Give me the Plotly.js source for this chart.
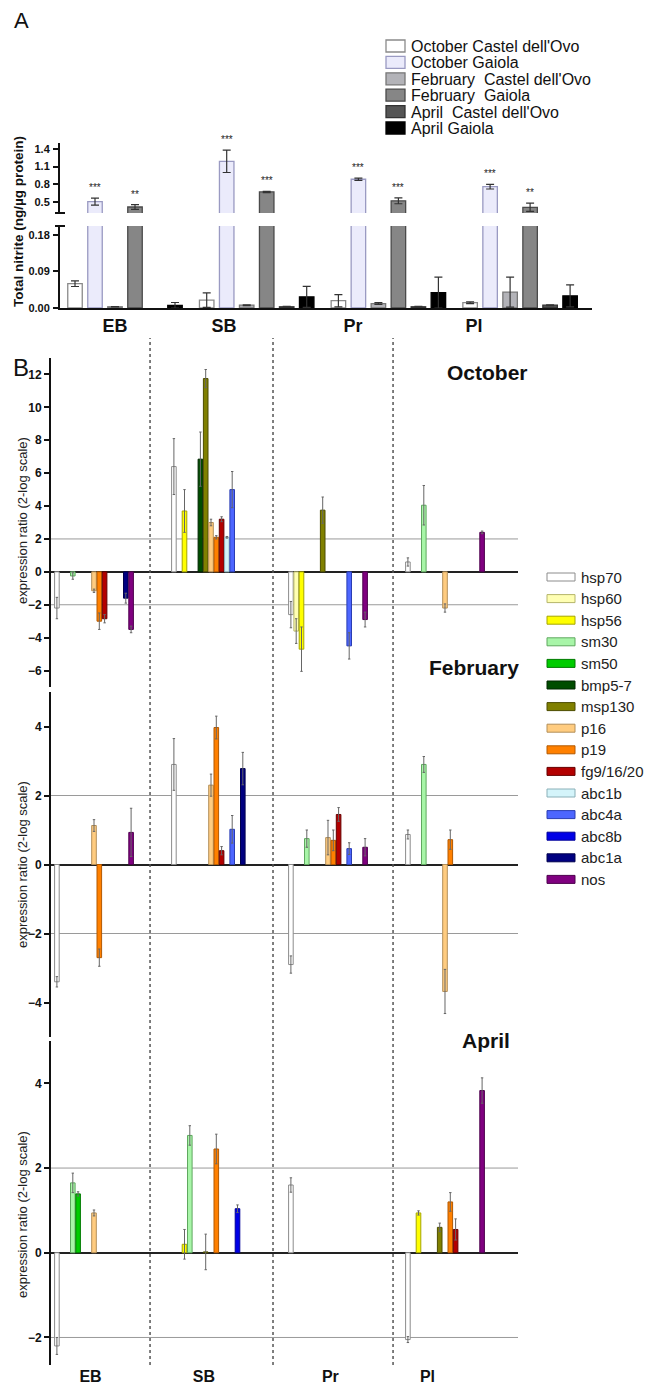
<!DOCTYPE html>
<html><head><meta charset="utf-8">
<script src="https://cdn.plot.ly/plotly-3.0.1.min.js"></script>
<style>html,body{margin:0;padding:0;background:#fff}#chart{width:646px;height:1386px}</style>
</head><body><div id="chart"></div>
<script>
const _ = null;
// ---------- Panel A data ----------
const regions = ['EB', 'SB', 'Pr', 'Pl'];
const nitriteSeries = ["October Castel dell'Ovo", "October Gaiola", "February\u00a0 Castel dell'Ovo",
  "February\u00a0 Gaiola", "April\u00a0 Castel dell'Ovo", "April Gaiola"];
const octCastel = [0.060, 0.0195, 0.018, 0.013];
const octCastelErr = [0.007, 0.018, 0.015, 0.002];
const octGaiola = [0.505, 1.19, 0.885, 0.76];
const octGaiolaErr = [0.06, 0.19, 0.02, 0.04];
const febCastel = [0.003, 0.007, 0.011, 0.039];
const febCastelErr = [0.0005, 0.001, 0.002, 0.037];
const febGaiola = [0.415, 0.67, 0.52, 0.41];
const febGaiolaErr = [0.04, 0.01, 0.05, 0.07];
const aprCastel = [_, 0.003, 0.003, 0.007];
const aprCastelErr = [_, 0.001, 0.001, 0.001];
const aprGaiola = [0.0065, 0.0275, 0.038, 0.030];
const aprGaiolaErr = [0.007, 0.026, 0.038, 0.027];
const sigOctGaiola = ['***', '***', '***', '***'];
const sigFebGaiola = ['**', '***', '***', '**'];
const nitriteTicksLow = [0, 0.09, 0.18];
const nitriteTicksLowText = ['0.00', '0.09', '0.18'];
const nitriteTicksUp = [0.5, 0.8, 1.1, 1.4];
const nitriteTicksUpText = ['0.5', '0.8', '1.1', '1.4'];

// ---------- Panel B data ----------
const genes = ['hsp70', 'hsp60', 'hsp56', 'sm30', 'sm50', 'bmp5-7', 'msp130', 'p16', 'p19',
  'fg9/16/20', 'abc1b', 'abc4a', 'abc8b', 'abc1a', 'nos'];
const months = ['October', 'February', 'April'];
// rows: EB, SB, Pr, Pl ; columns: genes
const octoberValues = [
  [-2.2, _, _, -0.25, _, _, _, -1.15, -3.0, -2.85, _, _, _, -1.6, -3.5],
  [6.4, _, 3.7, _, _, 6.85, 11.75, 3.0, 2.1, 3.2, 2.1, 5.0, _, _, _],
  [-2.6, -3.6, -4.7, _, _, _, 3.75, _, _, _, _, -4.5, _, _, -2.9],
  [0.6, _, _, 4.05, _, _, _, -2.2, _, _, _, _, _, _, 2.4]
];
const octoberErrors = [
  [0.65, _, _, 0.2, _, _, _, 0.1, 0.5, 0.25, _, _, _, 0.3, 0.2],
  [1.7, _, 1.3, _, _, 1.65, 0.55, 0.2, 0.1, 0.15, 0.05, 1.1, _, _, _],
  [0.8, 0.75, 1.35, _, _, _, 0.8, _, _, _, _, 0.8, _, _, 0.45],
  [0.25, _, _, 1.2, _, _, _, 0.25, _, _, _, _, _, _, 0.08]
];
const februaryValues = [
  [-3.4, _, _, _, _, _, _, 1.13, -2.7, _, _, _, _, _, 0.93],
  [2.9, _, _, _, _, _, _, 2.3, 3.97, 0.4, _, 1.02, _, 2.78, _],
  [-2.9, _, _, 0.75, _, _, _, 0.78, 0.7, 1.45, _, 0.46, _, _, 0.5],
  [0.87, _, _, 2.9, _, _, _, -3.68, 0.72, _, _, _, _, _, _]
];
const februaryErrors = [
  [0.15, _, _, _, _, _, _, 0.17, 0.25, _, _, _, _, _, 0.7],
  [0.75, _, _, _, _, _, _, 0.32, 0.33, 0.12, _, 0.4, _, 0.47, _],
  [0.25, _, _, 0.25, _, _, _, 0.5, 0.3, 0.2, _, 0.17, _, _, 0.25],
  [0.13, _, _, 0.23, _, _, _, 0.64, 0.28, _, _, _, _, _, _]
];
const aprilValues = [
  [-2.2, _, _, 1.65, 1.39, _, _, 0.94, _, _, _, _, _, _, _],
  [_, _, 0.2, 2.77, _, _, 0.02, _, 2.45, _, _, _, 1.04, _, _],
  [1.6, _, _, _, _, _, _, _, _, _, _, _, _, _, _],
  [-2.05, _, 0.94, _, _, _, 0.6, _, 1.2, 0.55, _, _, _, _, 3.83]
];
const aprilErrors = [
  [0.2, _, _, 0.23, 0.05, _, _, 0.07, _, _, _, _, _, _, _],
  [_, _, 0.35, 0.23, _, _, 0.42, _, 0.35, _, _, _, 0.09, _, _],
  [0.17, _, _, _, _, _, _, _, _, _, _, _, _, _, _],
  [0.07, _, 0.05, _, _, _, 0.1, _, 0.22, 0.25, _, _, _, _, 0.3]
];
const octoberTicks = [-6, -4, -2, 0, 2, 4, 6, 8, 10, 12];
const februaryTicks = [-4, -2, 0, 2, 4];
const aprilTicks = [-2, 0, 2, 4];
const referenceLevels = [2, -2];

// ---------- styles ----------
const fillA = ['#ffffff', '#ebebfb', '#b3b3b8', '#868686', '#555555', '#000000'];
const lineA = ['#8a8a8a', '#9a9ac2', '#777777', '#4a4a4a', '#333333', '#000000'];
const fillB = ['#ffffff', '#ffffb3', '#ffff00', '#a8f5a8', '#00cc00', '#004d00', '#808000',
  '#ffcc80', '#ff8000', '#b30000', '#d4f4fa', '#4d66ff', '#0000e6', '#000080', '#800080'];
const lineB = ['#8c8c8c', '#b5b56a', '#a6a600', '#5fa85f', '#007a00', '#002600', '#4d4d00',
  '#b38f59', '#b35900', '#660000', '#8ab0b8', '#2a3db3', '#000099', '#00004d', '#4d004d'];

const W = 646, H = 1386;
const X = px => px / W;
const Y = py => 1 - py / H;
const BOLD = 'bold';
const FONT = 'Liberation Sans, Arial, sans-serif';
const NARROW = 'Liberation Sans Narrow, Arial Narrow, Liberation Sans, sans-serif';

// geometry (layout only)
const unitA = 131.7, centerA0 = 125, slotA = 20 / unitA, barWA = 14.5 / unitA;
const rangeA = [(60 - centerA0) / unitA, (592 - centerA0) / unitA];
const unitB = 117, centerB0 = 94, slotB = 5.3 / unitB, barWB = 4.6 / unitB;
const rangeB = [(51 - centerB0) / unitB, (518 - centerB0) / unitB];
const labelPosA = [-0.076, 0.752, 1.731, 2.65];
const labelPosB = [-0.03, 0.94, 2.02, 2.85];
const separatorsB = [0.479, 1.53, 2.556];
const xIdx = regions.map((r, i) => i);

const traces = [];
const nitriteVals = [octCastel, octGaiola, febCastel, febGaiola, aprCastel, aprGaiola];
const nitriteErrs = [octCastelErr, octGaiolaErr, febCastelErr, febGaiolaErr, aprCastelErr, aprGaiolaErr];
nitriteVals.forEach((vals, s) => {
  ['', '2'].forEach(ax => {
    traces.push({
      type: 'bar', x: xIdx, y: vals, xaxis: 'x' + ax, yaxis: 'y' + ax,
      name: nitriteSeries[s], width: barWA, offset: (s - 2.5) * slotA - barWA / 2,
      marker: {color: fillA[s], line: {color: lineA[s], width: 1.3}},
      error_y: {type: 'data', array: nitriteErrs[s], visible: true, color: '#333', thickness: 1.2, width: 4},
      showlegend: false, hoverinfo: 'skip'
    });
  });
});

const monthVals = [octoberValues, februaryValues, aprilValues];
const monthErrs = [octoberErrors, februaryErrors, aprilErrors];
monthVals.forEach((vals, m) => {
  genes.forEach((g, gi) => {
    traces.push({
      type: 'bar', x: xIdx, y: vals.map(row => row[gi]), xaxis: 'x' + (3 + m), yaxis: 'y' + (3 + m),
      name: g, width: barWB, offset: (gi - 7) * slotB - barWB / 2,
      marker: {color: fillB[gi], line: {color: lineB[gi], width: 1}},
      error_y: {type: 'data', array: monthErrs[m].map(row => row[gi]), visible: true, color: '#666', thickness: 1, width: 1.2},
      showlegend: false, hoverinfo: 'skip'
    });
  });
});

const annotations = [];
const shapes = [];
const txt = (px, py, text, size, extra) => Object.assign({xref: 'paper', yref: 'paper', x: X(px), y: Y(py),
  xanchor: 'center', yanchor: 'middle', text: text, showarrow: false, font: {size: size, family: FONT, color: '#111'}}, extra || {});
// significance stars
[[1, sigOctGaiola], [3, sigFebGaiola]].forEach(([s, sig]) => {
  sig.forEach((t, i) => {
    annotations.push({xref: 'x2', yref: 'y2', x: i + (s - 2.5) * slotA, y: nitriteVals[s][i] + nitriteErrs[s][i],
      xanchor: 'center', yanchor: 'bottom', yshift: 3, text: t, showarrow: false, font: {size: 10, color: '#222', family: FONT}});
  });
});
// panel letters and titles
annotations.push(txt(21, 21, 'A', 22));
annotations.push(txt(21, 368, 'B', 24));
annotations.push(txt(18, 222, '<b>Total nitrite (ng/µg protein)</b>', 13.5, {textangle: -90}));
const monthTitlePos = [[487, 372], [474, 667], [486, 1040]];
months.forEach((mn, m) => {
  annotations.push(txt(monthTitlePos[m][0], monthTitlePos[m][1], '<b>' + mn + '</b>', 21));
});
const yTitleCenters = [521, 865, 1215];
yTitleCenters.forEach(cy => {
  annotations.push(txt(22, cy, 'expression ratio (2-log scale)', 13, {textangle: -90, font: {size: 13, family: FONT, color: '#222'}}));
});
// legend A
nitriteSeries.forEach((nm, s) => {
  const cy = 46 + 16.4 * s;
  shapes.push({type: 'rect', xref: 'paper', yref: 'paper', x0: X(386), x1: X(405), y0: Y(cy + 6), y1: Y(cy - 6),
    fillcolor: fillA[s], line: {color: lineA[s], width: 1.3}});
  annotations.push(txt(409, cy + 0.5, nm, 16, {xanchor: 'left'}));
});
// legend B
genes.forEach((g, gi) => {
  const cy = 577 + 21.6 * gi;
  shapes.push({type: 'rect', xref: 'paper', yref: 'paper', x0: X(547), x1: X(575), y0: Y(cy + 4), y1: Y(cy - 4),
    fillcolor: fillB[gi], line: {color: lineB[gi], width: 1}});
  annotations.push(txt(579, cy, g, 15, {xanchor: 'left', font: {size: 15, family: FONT, color: '#222'}}));
});
// axis-break caps in panel A
[213, 226].forEach(py => {
  shapes.push({type: 'line', xref: 'paper', yref: 'paper', x0: X(55), x1: X(65), y0: Y(py), y1: Y(py), line: {color: '#111', width: 2}});
});
// +/-2 reference lines in panel B
[3, 4, 5].forEach(k => {
  referenceLevels.forEach(v => {
    shapes.push({type: 'line', xref: 'paper', yref: 'y' + k, x0: X(51), x1: X(518), y0: v, y1: v,
      line: {color: '#9a9a9a', width: 1}, layer: 'below'});
  });
});
// dotted separators
separatorsB.forEach(sx => {
  shapes.push({type: 'line', xref: 'x5', yref: 'paper', x0: sx, x1: sx, y0: Y(1365), y1: Y(338),
    line: {color: '#555', width: 1.5, dash: 'dot'}});
});

const yB = (dom, range, ticks) => ({
  domain: [Y(dom[1]), Y(dom[0])], range: range, showline: true, linewidth: 2, linecolor: '#111',
  ticks: 'outside', ticklen: 5, tickwidth: 2, tickcolor: '#111', tickvals: ticks,
  tickfont: {size: 12, family: FONT, weight: BOLD, color: '#111'},
  showgrid: false, zeroline: true, zerolinecolor: '#222', zerolinewidth: 2
});
const xB = (k, show) => ({
  domain: [X(51), X(518)], range: rangeB, anchor: 'y' + k, showgrid: false, zeroline: false,
  showline: false, ticks: '', tickvals: labelPosB, ticktext: regions, showticklabels: show,
  tickfont: {size: 16, family: FONT, weight: BOLD, color: '#111'}
});
const yA = (dom, range, tv, tt, anchor) => ({
  domain: [Y(dom[1]), Y(dom[0])], range: range, anchor: anchor, showline: true, linewidth: 2, linecolor: '#111',
  ticks: 'outside', ticklen: 5, tickwidth: 2, tickcolor: '#111', tickvals: tv, ticktext: tt,
  ticklabelstandoff: 1, tickfont: {size: 11, family: NARROW, weight: BOLD, color: '#111'}, showgrid: false, zeroline: false
});

const layout = {
  width: W, height: H, margin: {l: 0, r: 0, t: 0, b: 0}, paper_bgcolor: '#fff', plot_bgcolor: 'rgba(0,0,0,0)',
  barmode: 'overlay', showlegend: false, font: {family: FONT, color: '#111'},
  xaxis: {domain: [X(60), X(592)], range: rangeA, anchor: 'y', showline: true, linewidth: 2, linecolor: '#111',
    ticks: '', tickvals: labelPosA, ticktext: regions, showgrid: false, zeroline: false,
    tickfont: {size: 18, family: FONT, weight: BOLD, color: '#111'}},
  xaxis2: {domain: [X(60), X(592)], range: rangeA, anchor: 'y2', visible: false},
  yaxis: yA([226, 308], [0, 0.202], nitriteTicksLow, nitriteTicksLowText, 'x'),
  yaxis2: yA([143, 213], [0.313, 1.50], nitriteTicksUp, nitriteTicksUpText, 'x2'),
  xaxis3: Object.assign(xB(3, false), {visible: false}),
  xaxis4: Object.assign(xB(4, false), {visible: false}),
  xaxis5: xB(5, true),
  yaxis3: Object.assign(yB([358, 687], [-7, 13], octoberTicks), {anchor: 'x3'}),
  yaxis4: Object.assign(yB([692, 1037], [-5, 5], februaryTicks), {anchor: 'x4'}),
  yaxis5: Object.assign(yB([1041, 1365], [-2.65, 5], aprilTicks), {anchor: 'x5'}),
  annotations: annotations, shapes: shapes
};

Plotly.newPlot('chart', traces, layout, {staticPlot: true, displayModeBar: false});
</script></body></html>
